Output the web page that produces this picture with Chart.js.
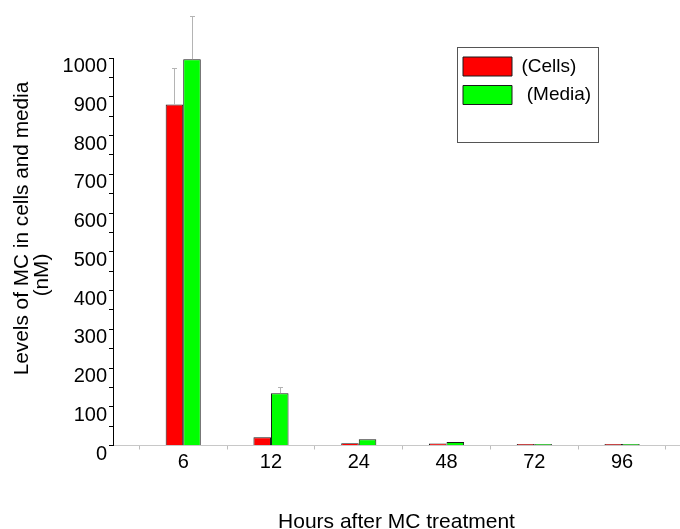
<!DOCTYPE html>
<html>
<head>
<meta charset="utf-8">
<title>MC levels in cells and media</title>
<script src="https://cdn.jsdelivr.net/npm/chart.js@4.4.1/dist/chart.umd.min.js"></script>
<style>
  html, body { margin: 0; padding: 0; background: #fff; }
  canvas { display: block; }
</style>
</head>
<body>
<canvas id="chart" width="680" height="529"></canvas>
<script>
// hours after treatment (x categories)
const hours = ["6", "12", "24", "48", "72", "96"];

// MC levels, nM
const cells = [880, 21, 6, 5, 4, 4];
const media = [997, 135, 16, 9, 4, 4];

// upper error (SD) for each bar, 0 = none drawn
const cellsErr = [95, 0, 0, 0, 0, 0];
const mediaErr = [112, 15, 0, 0, 0, 0];

const yTitleLines = ["Levels of MC in cells and media", "(nM)"];
const FONT = "'Liberation Sans', Arial, sans-serif";

Chart.defaults.font.family = FONT;
Chart.defaults.color = "#000";

const toPoints = (values)=>values.map((v, i)=>({x: i, y: v}));

// thin grey whiskers above the bars
const errorBars = {
  id: "errorBars",
  afterDatasetsDraw(chart){
    const {ctx} = chart;
    const y = chart.scales.y;
    ctx.save();
    ctx.strokeStyle = "#b4b4b4";
    ctx.lineWidth = 1;
    chart.data.datasets.forEach((ds, di)=>{
      chart.getDatasetMeta(di).data.forEach((bar, i)=>{
        const sd = ds.errors[i];
        if(!sd){ return; }
        const x = Math.round(bar.x) + 0.5;
        const top = Math.round(y.getPixelForValue(ds.data[i].y + sd)) + 0.5;
        ctx.beginPath();
        ctx.moveTo(x, bar.y);
        ctx.lineTo(x, top);
        ctx.moveTo(x - 2.5, top);
        ctx.lineTo(x + 2.5, top);
        ctx.stroke();
      });
    });
    ctx.restore();
  }
};

// legend sits in a framed box at the upper right
const legendBox = {
  id: "legendBox",
  afterLayout(chart){
    const lg = chart.legend;
    lg.left = 453.5;
    lg.top = 47.5;
    lg.right = lg.left + 146;
    lg.bottom = lg.top + 95;
  },
  afterDraw(chart){
    const {ctx} = chart;
    ctx.save();
    ctx.strokeStyle = "#555";
    ctx.lineWidth = 1;
    ctx.strokeRect(457.5, 47.5, 141, 95);
    ctx.restore();
  }
};

// two-line rotated y title, placed like the original
const yTitle = {
  id: "yTitle",
  afterDraw(chart){
    const {ctx} = chart;
    ctx.save();
    ctx.translate(22.5, 228.5);
    ctx.rotate(-Math.PI / 2);
    ctx.font = "20.8px " + FONT;
    ctx.fillStyle = "#000";
    ctx.textAlign = "center";
    ctx.textBaseline = "middle";
    ctx.fillText(yTitleLines[0], 0, 0);
    ctx.fillText(yTitleLines[1], -46.5, 19.5);
    ctx.restore();
  }
};

new Chart(document.getElementById("chart"), {
  type: "bar",
  data: {
    datasets: [{
      label: "(Cells)",
      data: toPoints(cells),
      errors: cellsErr,
      backgroundColor: "#ff0000",
      borderColor: "#1a1a1a",
      borderWidth: 1
    }, {
      label: " (Media)",
      data: toPoints(media),
      errors: mediaErr,
      backgroundColor: "#00ff00",
      borderColor: "#1a1a1a",
      borderWidth: 1
    }]
  },
  options: {
    responsive: false,
    animation: false,
    devicePixelRatio: 1,
    layout: {padding: {top: 58, left: 0, right: 0, bottom: 0}},
    datasets: {bar: {categoryPercentage: 0.4, barPercentage: 1}},
    plugins: {
      tooltip: {enabled: false},
      legend: {
        position: "chartArea",
        align: "start",
        labels: {
          boxWidth: 49,
          boxHeight: 19,
          padding: 9.5,
          color: "#000",
          font: {size: 19}
        }
      }
    },
    scales: {
      x: {
        type: "linear",
        offset: false,
        min: -0.8,
        max: 5.66,
        afterFit: (s)=>{ s.height = 83.5; },
        ticks: {
          stepSize: 1,
          includeBounds: false,
          autoSkip: false,
          maxRotation: 0,
          padding: 1,
          font: {size: 20},
          color: "#000",
          callback: (v)=>hours[v] ?? ""
        },
        grid: {
          offset: true,
          drawOnChartArea: false,
          tickLength: 4,
          tickColor: "#bdbdbd"
        },
        border: {color: "#c8c8c8", width: 1},
        title: {
          display: true,
          text: "Hours after MC treatment",
          font: {size: 21},
          color: "#000",
          padding: {top: 0, bottom: -6}
        }
      },
      y: {
        min: 0,
        max: 1000,
        afterFit: (s)=>{ s.width = 113; },
        ticks: {
          stepSize: 50,
          autoSkip: false,
          padding: 2,
          labelOffset: 8.5,
          font: {size: 20},
          color: "#000",
          callback: (v)=>(v % 100 === 0 ? String(v) : "")
        },
        grid: {
          drawOnChartArea: false,
          tickLength: 4,
          tickColor: "#000"
        },
        border: {color: "#000", width: 1}
      }
    }
  },
  plugins: [errorBars, legendBox, yTitle]
});
</script>
</body>
</html>
